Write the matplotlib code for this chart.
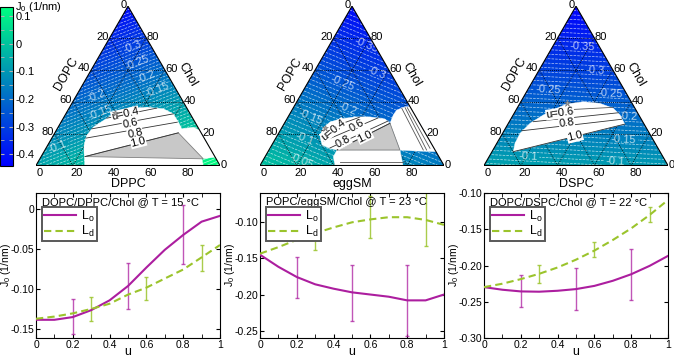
import numpy as np
import matplotlib
matplotlib.use('Agg')
import matplotlib.pyplot as plt
from matplotlib.patches import Polygon
from matplotlib.colors import Normalize
from matplotlib.cm import ScalarMappable
from matplotlib.ticker import MultipleLocator, FuncFormatter

plt.rcParams['font.family'] = ['Liberation Sans', 'DejaVu Sans']
plt.rcParams['mathtext.fontset'] = 'custom'
plt.rcParams['mathtext.rm'] = 'Liberation Sans'
plt.rcParams['mathtext.it'] = 'Liberation Sans:italic'
plt.rcParams['font.size'] = 8

# ---------------- data ----------------
systems = ['DOPC/DPPC/Chol', 'POPC/eggSM/Chol', 'DOPC/DSPC/Chol']
temps = [15, 23, 22]
left_lipid = ['DOPC', 'POPC', 'DOPC']
bottom_lipid = ['DPPC', 'eggSM', 'DSPC']
# J0 (1/nm) of pure components: [left lipid, bottom lipid, Chol]
j0_pure = [[-0.07, 0.135, -0.42],
           [-0.005, -0.165, -0.42],
           [-0.075, -0.097, -0.44]]
cbar_range = (-0.442, 0.134)

# phase boundaries, (bottom lipid %, Chol %)
t1_white = [(26.6, 0), (21.9, 8.4), (19.8, 12.6), (18.1, 18.8), (19.1, 24.1), (22.5, 28.2),
            (26.4, 33.0), (33.3, 35.6), (41.8, 36.6), (51.4, 35.6), (58.4, 32.4), (63.8, 27.2),
            (67.7, 23.0), (73.5, 24.0), (78, 22), (94.8, 5.2), (88, 4.2), (90.9, 0)]
t1_gray = [(23.8, 5.6), (67.1, 20.5), (88.8, 4.2)]
t1_ties = [[(23.6, 29.7), (47.6, 36.0)], [(18.8, 23.0), (58.4, 32.4)],
           [(18.6, 17.2), (63.2, 27.2)], [(23.8, 5.6), (67.1, 20.5)]]
t1_tie_labels = ['u=0.4', '0.6', '0.8', '1.0']
t1_star = (26.4, 33.0)

t2_lens = [(23.7, 17.9), (22.5, 23.5), (24.4, 27.3), (28.9, 29.2), (36.4, 30.5), (44.6, 30.5),
           (53.3, 29.2), (57.4, 26.5), (37.0, 9.7), (32.7, 10.7), (27.3, 12.9)]
t2_right = [(57.4, 26.5), (56.6, 31.7), (56.9, 34.8), (60.4, 36.9), (63.1, 36.9),
            (91.3, 8.7), (80.6, 9.1), (71.2, 9.7)]
t2_bottom = [(37.0, 9.7), (71.2, 9.7), (77.7, 0), (40.8, 0), (37.1, 5.5)]
t2_gray = [(37.0, 9.7), (57.4, 26.5), (71.2, 9.7)]
t2_ties = [[(22.6, 21.7), (39.2, 30.4)], [(27.1, 15.4), (49.2, 29.8)],
           [(32.5, 11.0), (55.6, 27.9)], [(37.0, 9.7), (57.4, 26.5)]]
t2_tie_labels = ['u=0.4', '0.6', '0.8', '1.0']
t2_other_ties = [[(59.1, 35.9), (83.9, 9.7)], [(60.7, 36.3), (85.7, 9.7)],
                 [(61.9, 36.3), (87.0, 10.8)], [(42.3, 2.4), (76.7, 2.4)]]
t2_star = (23.7, 23.3)

t3_white = [(11.6, 8.7), (9.9, 13.9), (9.5, 20.2), (11.8, 26.5), (16.4, 31.7), (21.6, 35.9),
            (25.7, 38.6), (34.0, 40.0), (43.5, 39.0), (52.3, 35.9), (58.1, 31.7), (62.0, 27.5),
            (63.6, 26.0)]
t3_ties = [[(13.1, 27.5), (56.5, 33.1)], [(9.6, 21.8), (60.3, 29.0)],
           [(11.6, 8.7), (63.6, 26.0)]]
t3_tie_labels = ['u=0.6', '0.8', '1.0']
t3_other_ties = [[(18.7, 34.4), (52.0, 36.5)]]
t3_star = (25.3, 39.4)

# J0 curves vs u
u = [0, 0.1, 0.2, 0.3, 0.4, 0.5, 0.6, 0.7, 0.8, 0.9, 1.0]
lo_curves = [[-0.138, -0.138, -0.1346, -0.126, -0.1138, -0.096, -0.073, -0.051, -0.0325, -0.016, -0.0088],
             [-0.1454, -0.162, -0.176, -0.186, -0.192, -0.197, -0.200, -0.203, -0.208, -0.208, -0.200],
             [-0.2297, -0.2333, -0.2356, -0.236, -0.2347, -0.2324, -0.228, -0.221, -0.212, -0.2005, -0.1868]]
ld_curves = [[-0.1367, -0.134, -0.130, -0.1245, -0.118, -0.1067, -0.098, -0.0867, -0.0755, -0.0604, -0.045],
             [-0.144, -0.135, -0.125, -0.116, -0.108, -0.101, -0.097, -0.094, -0.094, -0.0977, -0.1045],
             [-0.2297, -0.225, -0.2187, -0.2114, -0.2027, -0.192, -0.1795, -0.165, -0.149, -0.1306, -0.110]]
u_lo_err = [0.2, 0.5, 0.8]
u_ld_err = [0.3, 0.6, 0.9]
lo_mean = [[-0.134, -0.096, -0.032], [-0.1766, -0.1975, -0.208], [-0.235, -0.232, -0.2123]]
lo_err = [[0.022, 0.029, 0.037], [0.028, 0.0385, 0.049], [0.022, 0.0285, 0.0347]]
ld_mean = [[-0.1246, -0.0988, -0.061], [-0.115, -0.094, -0.096], [-0.212, -0.178, -0.130]]
ld_err = [[0.015, 0.0142, 0.016], [0.0243, 0.029, 0.037], [0.0124, 0.0108, 0.0108]]
ylims = [(-0.161, 0.02), (-0.26, -0.0604), (-0.30, -0.10)]
yticks = [[0, -0.05, -0.10, -0.15], [-0.10, -0.15, -0.20, -0.25], [-0.10, -0.15, -0.20, -0.25, -0.30]]

# ---------------- drawing ----------------
W, H = 674, 357
H3 = np.sqrt(3) / 2
fig = plt.figure(figsize=(W / 100, H / 100), dpi=100)


def px_axes(l, t, w, h):
    return fig.add_axes([l / W, 1 - (t + h) / H, w / W, h / H])


def txy(pts):
    p = np.asarray(pts, dtype=float) / 100
    a, c = p[..., 0], p[..., 1]
    return np.stack([a + c / 2, c * H3], axis=-1)


norm = Normalize(*cbar_range)
cmap = 'winter'
magenta = '#AC1E9F'
green = '#9BC42C'

tern_left = [36, 260, 484]
whites = [[t1_white], [t2_lens, t2_right, t2_bottom], [t3_white]]
grays = [[t1_gray], [t2_gray], []]
ties = [t1_ties, t2_ties, t3_ties]
tie_labels = [t1_tie_labels, t2_tie_labels, t3_tie_labels]
other_ties = [[], t2_other_ties, t3_other_ties]
stars = [t1_star, t2_star, t3_star]
clab_pos = [[(15.7, 74), (22.2, 65), (32.2, 56), (41.6, 48.4), (11.5, 43), (18.5, 33), (4.4, 13.6)],
            [(20, 74.4), (34.3, 57), (19.4, 50), (29.7, 37.2), (12, 31.4), (15.7, 18.6), (21, 4)],
            [(17, 73), (30.9, 58.8), (11.5, 46.25), (46.4, 44.4), (63, 30.6), (67.6, 16.25),
             (21, 5.6), (70, 2.5)]]
tie_lab_pos = [[(32.2, 32.4, 13), (38.0, 26.2, 12), (43.9, 19.9, 12), (48.3, 14.6, 14)],
               [(28.7, 22.3, 38), (40.0, 25.0, 30), (37.8, 14.9, 28), (48.0, 18.1, 26)],
               [(24.9, 32.8, 8), (31.5, 26.9, 8), (40.4, 18.1, 14)]]

xs = np.linspace(0, 1, 500)
ys = np.linspace(0, H3, 434)
X, Y = np.meshgrid(xs, ys)
Cf = Y / H3
Af = X - Cf / 2
levels = np.round(np.arange(-0.45, 0.145, 0.01), 2)
is_lab = np.abs(levels * 20 - np.round(levels * 20)) < 1e-6
lab_levels = levels[is_lab]
plain_levels = levels[~is_lab]

for k in range(3):
    ax = px_axes(tern_left[k], 165.5 - 184 * H3, 184, 184 * H3)
    corners = np.array([[0, 0], [1, 0], [0.5, H3]])
    tri = Polygon(corners, closed=True, fc='none', ec='black', lw=0.8, zorder=8)
    ax.add_patch(tri)
    jd, js, jc = j0_pure[k]
    Z = jd * (1 - Af - Cf) + js * Af + jc * Cf
    im = ax.imshow(Z, extent=(0, 1, 0, H3), origin='lower', cmap=cmap, norm=norm,
                   interpolation='bilinear', aspect='auto', zorder=1)
    im.set_clip_path(tri)
    cs0 = ax.contour(X, Y, Z, levels=plain_levels, colors='white', linewidths=0.5, alpha=0.7, zorder=2)
    cs0.set_clip_path(tri)
    cs = ax.contour(X, Y, Z, levels=lab_levels, colors='white', linewidths=0.5, alpha=0.7, zorder=2)
    cs.set_clip_path(tri)
    ax.clabel(cs, manual=[tuple(txy(p)) for p in clab_pos[k]],
              fmt=lambda v: f'{round(v, 2):g}', fontsize=8, colors='white',
              inline=True, inline_spacing=2)

    for v in (0.2, 0.4, 0.6, 0.8):
        for seg in ([(v / 2, v * H3), (1 - v / 2, v * H3)],
                    [(v, 0), (v + (1 - v) / 2, (1 - v) * H3)],
                    [(1 - v, 0), ((1 - v) / 2, (1 - v) * H3)]):
            s = np.array(seg)
            ax.plot(s[:, 0], s[:, 1], color='black', lw=0.6, ls=(0, (1, 1.5)), zorder=3)

    for poly in whites[k]:
        ax.add_patch(Polygon(txy(poly), closed=True, fc='white', ec='white', lw=0.3, zorder=4))
    for poly in grays[k]:
        ax.add_patch(Polygon(txy(poly), closed=True, fc='#C8C8C8', ec='#808080', lw=0.6, zorder=5))
    for seg in ties[k]:
        s = txy(seg)
        ax.plot(s[:, 0], s[:, 1], color='#333333', lw=0.6, zorder=6)
    for seg in other_ties[k]:
        s = txy(seg)
        ax.plot(s[:, 0], s[:, 1], color='#555555', lw=0.6, zorder=6)
    for lab, (pa, pc, rot) in zip(tie_labels[k], tie_lab_pos[k]):
        x, y = txy((pa, pc))
        ax.text(x, y, lab, fontsize=8, rotation=rot, ha='center', va='center', zorder=7,
                rotation_mode='anchor',
                bbox=dict(fc='white', ec='none', pad=0.2))
    sx, sy = txy(stars[k])
    ax.plot(sx, sy, marker='*', ms=5, color='#A0A0A0', mec='#707070', mew=0.4, zorder=7)

    # ternary tick labels
    for v in (0, 20, 40, 60, 80):
        ax.annotate(str(v), (v / 100, 0), xytext=(4, -2), textcoords='offset pixels',
                    ha='center', va='top', fontsize=8)
    for v in (0, 20, 40, 60, 80):
        x, y = txy((100 - v, v))
        ax.annotate(str(v), (x, y), xytext=(0.5, 1), textcoords='offset pixels',
                    ha='left', va='center', fontsize=8)
    for v in (0, 20, 40, 60, 80):
        x, y = txy((0, 100 - v))
        ax.annotate(str(v), (x, y), xytext=(-1, 1.5), textcoords='offset pixels',
                    ha='right', va='center', fontsize=8)
    ax.text(0.5, -0.1, bottom_lipid[k], ha='center', va='center', fontsize=9)
    ax.text(0.165, 0.497, left_lipid[k], ha='center', va='center', fontsize=9, rotation=60)
    ax.text(0.825, 0.494, 'Chol', ha='center', va='center', fontsize=9, rotation=-60)
    ax.set_xlim(0, 1)
    ax.set_ylim(0, H3)
    ax.axis('off')

# colorbar
cax = px_axes(0, 6.7, 13, 159)
cb = fig.colorbar(ScalarMappable(norm=norm, cmap=cmap), cax=cax)
cb.set_ticks([0.1, 0, -0.1, -0.2, -0.3, -0.4])
cb.set_ticklabels(['0.1', '0', '-0.1', '-0.2', '-0.3', '-0.4'])
cax.yaxis.set_minor_locator(MultipleLocator(0.05))
cax.tick_params(which='both', direction='in', length=3, color='0.7', left=True, right=True,
                labelsize=8, pad=2)
cb.outline.set_linewidth(0.8)
fig.text(15 / W, 1 - 6.5 / H, 'J$_0$ (1/nm)', ha='left', va='center', fontsize=8)

# J0 vs u panels
fmt_y = FuncFormatter(lambda v, p: '0' if abs(v) < 1e-9 else f'{v:.2f}')
fmt_x = FuncFormatter(lambda v, p: f'{v:g}')
for k in range(3):
    ax = px_axes(tern_left[k], 192.7, 184, 145.6)
    ax.errorbar(u_lo_err, lo_mean[k], yerr=lo_err[k], fmt='none', ecolor=magenta, elinewidth=1,
                capsize=1.5, alpha=0.75, zorder=2)
    ax.errorbar(u_ld_err, ld_mean[k], yerr=ld_err[k], fmt='none', ecolor=green, elinewidth=1,
                capsize=1.5, alpha=0.85, zorder=2)
    ax.plot(u, lo_curves[k], color=magenta, lw=1.5, label='L$_\\mathrm{o}$', zorder=3)
    ax.plot(u, ld_curves[k], color=green, lw=1.5, ls=(0, (3.5, 2)), label='L$_\\mathrm{d}$', zorder=3)
    ax.set_xlim(0, 1)
    ax.set_ylim(*ylims[k])
    ax.set_xticks([0, 0.2, 0.4, 0.6, 0.8, 1.0])
    ax.xaxis.set_minor_locator(MultipleLocator(0.1))
    ax.set_yticks(yticks[k])
    ax.xaxis.set_major_formatter(fmt_x)
    ax.yaxis.set_major_formatter(fmt_y)
    ax.tick_params(which='both', direction='in', top=True, right=True, labelsize=7.5, pad=1)
    ax.tick_params(which='major', length=3)
    ax.tick_params(which='minor', length=3)
    for sp in ax.spines.values():
        sp.set_linewidth(0.8)
    ax.set_xlabel('u', fontsize=9)
    ax.xaxis.set_label_coords(0.5, -0.055)
    ax.set_ylabel('J$_0$ (1/nm)', fontsize=7.5)
    ax.yaxis.set_label_coords(-0.127, 0.5)
    ax.text(0.03, 0.938, f'{systems[k]} @ T = {temps[k]} °C', transform=ax.transAxes,
            ha='left', va='center', fontsize=8)
    leg = ax.legend(loc='upper left', bbox_to_anchor=(0.031, 0.904), fancybox=False,
                    edgecolor='0.35', framealpha=1, fontsize=9, handlelength=2.6,
                    borderpad=0.15, labelspacing=0.05, handletextpad=0.4, borderaxespad=0)
    leg.get_frame().set_linewidth(1.4)

fig.savefig('out.png', dpi=100)
